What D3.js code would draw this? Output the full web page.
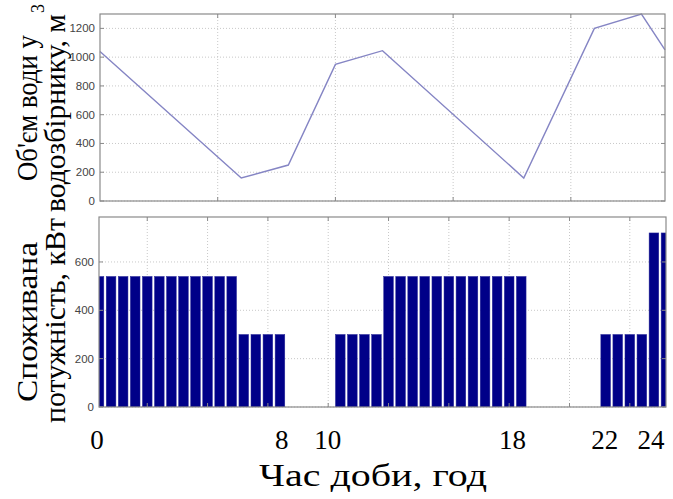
<!DOCTYPE html>
<html><head><meta charset="utf-8">
<script src="https://cdn.jsdelivr.net/npm/d3@7"></script>
<style>body{margin:0;background:#fff}svg{display:block}
.serif{font-family:"Liberation Serif","Times New Roman",Tinos,Times,"DejaVu Serif",serif}
.sans{font-family:"Liberation Sans",Arial,Helvetica,sans-serif}
</style>
</head><body>
<script>
// ---- data ----
const hours = [0, 6, 8, 10, 12, 18, 21, 23, 24];
const volume = [1040, 160, 250, 950, 1045, 160, 1200, 1300, 1050];
const volumeTicks = [0, 200, 400, 600, 800, 1000, 1200];
const hourGrid = [5, 10, 15, 20];

const slots = [1,2,3,4,5,6,7,8,9,10,11,12,13,14,15,16,17,18,19,20,21,22,23,24,
               25,26,27,28,29,30,31,32,33,34,35,36,37,38,39,40,41,42,43,44,45,46,47,48];
const power = [540,540,540,540,540,540,540,540,540,540,540,540,
               300,300,300,300,
               0,0,0,0,
               300,300,300,300,
               540,540,540,540,540,540,540,540,540,540,540,540,
               0,0,0,0,0,0,
               300,300,300,300,
               720,720];
const powerTicks = [0, 200, 400, 600];
const slotGrid = [5, 10, 15, 20, 25, 30, 35, 40, 45];

const hourLabelValues = [0, 8, 10, 18, 22, 24];
const hourLabels = ["0", "8", "10", "18", "22", "24"];

// ---- layout ----
const W = 673, H = 499;
const svg = d3.select("body").append("svg").attr("width", W).attr("height", H);

const pTop = {l: 100, r: 665, t: 14, b: 201};
const pBot = {l: 99, r: 666, t: 217, b: 407};

const gridColor = "#c8c8c8", axisColor = "#8a8a8a", tickText = "#444";

function panelFrame(p, xs, ys, xGrid, yGrid) {
  const g = svg.append("g");
  g.selectAll(".gx").data(xGrid).join("line")
    .attr("x1", d => xs(d)).attr("x2", d => xs(d)).attr("y1", p.t).attr("y2", p.b)
    .attr("stroke", gridColor).attr("stroke-dasharray", "1,2").attr("stroke-width", 1);
  g.selectAll(".gy").data(yGrid).join("line")
    .attr("x1", p.l).attr("x2", p.r).attr("y1", d => ys(d)).attr("y2", d => ys(d))
    .attr("stroke", gridColor).attr("stroke-dasharray", "1,2").attr("stroke-width", 1);
  return g;
}
function panelBox(p, xs, ys, xGrid, yGrid) {
  const g = svg.append("g");
  const tl = 4;
  g.selectAll(".tb").data(xGrid).join("line")
    .attr("x1", d => xs(d)).attr("x2", d => xs(d)).attr("y1", p.b).attr("y2", p.b - tl)
    .attr("stroke", axisColor);
  g.selectAll(".tt").data(xGrid).join("line")
    .attr("x1", d => xs(d)).attr("x2", d => xs(d)).attr("y1", p.t).attr("y2", p.t + tl)
    .attr("stroke", axisColor);
  g.selectAll(".tl").data(yGrid).join("line")
    .attr("x1", p.l).attr("x2", p.l + tl).attr("y1", d => ys(d)).attr("y2", d => ys(d))
    .attr("stroke", axisColor);
  g.selectAll(".tr").data(yGrid).join("line")
    .attr("x1", p.r).attr("x2", p.r - tl).attr("y1", d => ys(d)).attr("y2", d => ys(d))
    .attr("stroke", axisColor);
  g.append("rect").attr("x", p.l).attr("y", p.t).attr("width", p.r - p.l).attr("height", p.b - p.t)
    .attr("fill", "none").attr("stroke", axisColor).attr("stroke-width", 1.2);
  g.selectAll(".yl").data(yGrid).join("text")
    .attr("class", "sans")
    .attr("x", p.l - 5).attr("y", d => ys(d)).attr("dy", "0.35em")
    .attr("text-anchor", "end")
    .attr("font-size", 11.5).attr("fill", tickText).text(d => d);
}

// ---- top panel ----
const xTop = d3.scaleLinear().domain([0, 24]).range([pTop.l, pTop.r]);
const yTop = d3.scaleLinear().domain([0, 1300]).range([pTop.b, pTop.t]);
panelFrame(pTop, xTop, yTop, hourGrid, volumeTicks);
svg.append("path").datum(hours.map((h, i) => [h, volume[i]]))
  .attr("d", d3.line().x(d => xTop(d[0])).y(d => yTop(d[1])))
  .attr("fill", "none").attr("stroke", "#8585c4").attr("stroke-width", 1.4);
panelBox(pTop, xTop, yTop, hourGrid, volumeTicks);

// ---- bottom panel ----
const xBot = d3.scaleLinear().domain([1, 48]).range([pBot.l, pBot.r]);
const yBot = d3.scaleLinear().domain([0, 786]).range([pBot.b, pBot.t]);
panelFrame(pBot, xBot, yBot, slotGrid, powerTicks);
svg.append("clipPath").attr("id", "clipB").append("rect")
  .attr("x", pBot.l).attr("y", pBot.t).attr("width", pBot.r - pBot.l).attr("height", pBot.b - pBot.t);
const step = xBot(2) - xBot(1);
const bw = step * 0.8;
svg.append("g").attr("clip-path", "url(#clipB)")
  .selectAll("rect").data(slots.map((s, i) => ({s, v: power[i]})).filter(d => d.v > 0))
  .join("rect")
  .attr("x", d => xBot(d.s) - bw / 2).attr("width", bw)
  .attr("y", d => yBot(d.v)).attr("height", d => yBot(0) - yBot(d.v))
  .attr("fill", "#000088").attr("stroke", "#2a2a9a").attr("stroke-width", 0.5);
panelBox(pBot, xBot, yBot, slotGrid, powerTicks);

// ---- x tick labels (hours) ----
const xLab = d3.scaleLinear().domain([0, 24]).range([97, 651]);
svg.selectAll(".hl").data(hourLabelValues).join("text")
  .attr("class", "serif")
  .attr("x", d => xLab(d)).attr("y", 449)
  .attr("text-anchor", "middle")
  .attr("font-size", 27).attr("fill", "#000").text((d, i) => hourLabels[i]);

svg.append("text").attr("class", "serif").attr("x", 373).attr("y", 486).attr("text-anchor", "middle")
  .attr("font-size", 32).attr("textLength", 228).attr("lengthAdjust", "spacingAndGlyphs")
  .attr("fill", "#000").text("Час доби, год");

// ---- y titles ----
const yfs = 30;
function yLine(cy, base, len, txt) {
  svg.append("text").attr("class", "serif")
    .attr("transform", `translate(0,${cy}) rotate(-90)`)
    .attr("x", 0).attr("y", base).attr("text-anchor", "middle")
    .attr("font-size", yfs).attr("textLength", len).attr("lengthAdjust", "spacingAndGlyphs")
    .attr("fill", "#000").text(txt);
}
yLine(108, 37, 146, "Об'єм води у");
yLine(113, 65, 198, "водозбірнику, м");
svg.append("text").attr("class", "serif")
  .attr("transform", `translate(0,${113 - 99 - 1}) rotate(-90)`)
  .attr("x", 0).attr("y", 44).attr("text-anchor", "start")
  .attr("font-size", 18).attr("fill", "#000").text("3");
yLine(322, 37, 160, "Споживана");
yLine(320.5, 65, 205, "потужність, кВт");
</script>
</body></html>
